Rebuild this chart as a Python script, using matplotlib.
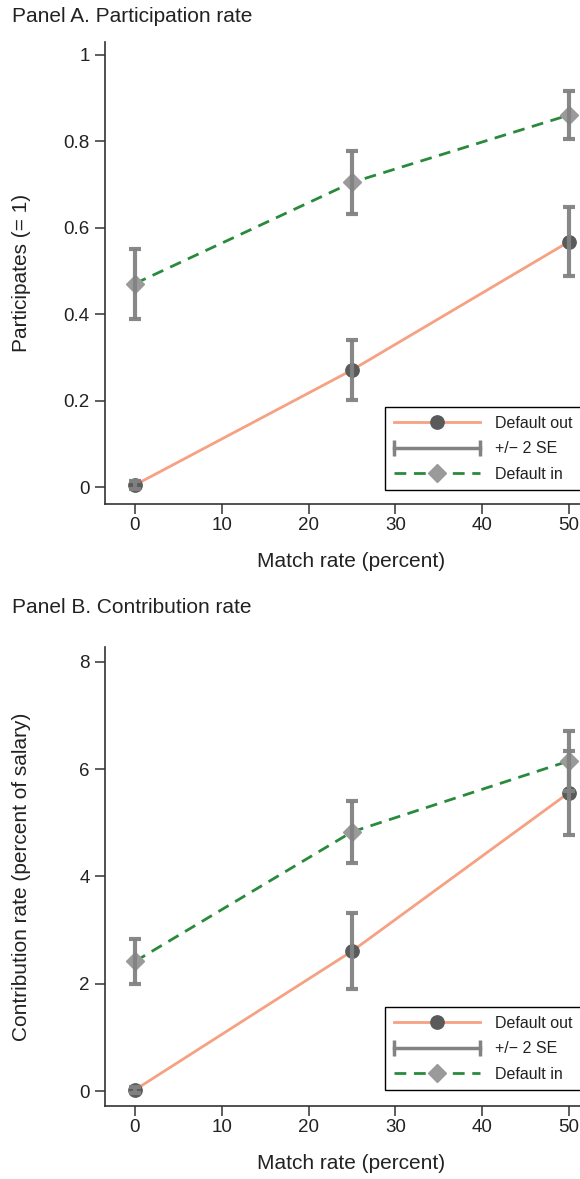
import matplotlib
matplotlib.use("Agg")
import matplotlib.pyplot as plt
from matplotlib.lines import Line2D
from matplotlib.legend_handler import HandlerLine2D

plt.rcParams['font.family'] = ['Liberation Sans', 'DejaVu Sans']
plt.rcParams['lines.scale_dashes'] = False

# ---- data ----
match_rate = [0, 25, 50]
xticks = [0, 10, 20, 30, 40, 50]

# Panel A: participation
partA_out = [0.005, 0.271, 0.568]
partA_out_se2 = [0.01, 0.070, 0.080]
partA_in = [0.471, 0.705, 0.861]
partA_in_se2 = [0.081, 0.072, 0.055]
yticksA = [0, 0.2, 0.4, 0.6, 0.8, 1]
yticklabelsA = ['0', '0.2', '0.4', '0.6', '0.8', '1']

# Panel B: contribution
contB_out = [0.03, 2.61, 5.56]
contB_out_se2 = [0.05, 0.71, 0.78]
contB_in = [2.42, 4.83, 6.15]
contB_in_se2 = [0.42, 0.58, 0.56]
yticksB = [0, 2, 4, 6, 8]

labels = ['Default out', '+/\u2212 2 SE', 'Default in']

ORANGE = '#F6A181'
GREEN = '#2A8A3C'
DOT = '#5A5A5A'
DIAM = '#9A9A9A'
BAR = '#828282'
SPINE = '#333333'
TXT = '#222222'

FS_LABEL = 15
FS_TICK = 13.5
FS_LEG = 11.5

W, H = 580, 1179
fig = plt.figure(figsize=(W / 100, H / 100), dpi=100)


def px_box(left, top, right, bottom):
    return [left / W, 1 - bottom / H, (right - left) / W, (bottom - top) / H]


def draw_panel(ax, y_out, e_out, y_in, e_in, yticks, yticklabels, ylim, ylabel, legend_top):
    ax.plot(match_rate, y_out, color=ORANGE, lw=2.0, zorder=2)
    ax.plot(match_rate, y_out, ls='none', marker='o', ms=9.6, color=DOT, zorder=3)
    ax.plot(match_rate, y_in, color=GREEN, lw=2.0, dashes=(8.5, 5.5), zorder=2)
    ax.plot(match_rate, y_in, ls='none', marker='D', ms=9.0, color=DIAM, zorder=3)
    for y, e in ((y_out, e_out), (y_in, e_in)):
        ax.errorbar(match_rate, y, yerr=e, fmt='none', ecolor=BAR, elinewidth=3.0,
                    capsize=4.3, capthick=3.0, alpha=0.95, zorder=4)
    ax.set_xlim(-3.45, 51.5)
    ax.set_ylim(*ylim)
    ax.set_xticks(xticks)
    ax.set_xticklabels([str(t) for t in xticks])
    ax.set_yticks(yticks)
    ax.set_yticklabels(yticklabels)
    for s in ('top', 'right'):
        ax.spines[s].set_visible(False)
    for s in ('left', 'bottom'):
        ax.spines[s].set_color(SPINE)
        ax.spines[s].set_linewidth(1.2)
    ax.tick_params(direction='out', length=7, width=1.1, color=SPINE,
                   labelsize=FS_TICK, labelcolor=TXT)
    ax.tick_params(axis='x', pad=2)
    ax.tick_params(axis='y', pad=4)
    ax.set_xlabel('Match rate (percent)', fontsize=FS_LABEL, color=TXT)
    ax.set_ylabel(ylabel, fontsize=FS_LABEL, color=TXT)

    h_out = Line2D([], [], color=ORANGE, lw=2.0, marker='o', ms=9.6,
                   markerfacecolor=DOT, markeredgecolor=DOT)
    h_se = Line2D([], [], color=BAR, lw=2.5, marker='|', ms=11, mew=2.5)
    h_in = Line2D([], [], color=GREEN, lw=2.0, dashes=(8.5, 5.5), marker='D', ms=9.0,
                  markerfacecolor=DIAM, markeredgecolor=DIAM)
    leg = ax.legend([h_out, h_se, h_in], labels, loc='upper left',
                    bbox_to_anchor=(385 / W, 1 - legend_top / H),
                    bbox_transform=fig.transFigure, fontsize=FS_LEG,
                    handlelength=5.4, handletextpad=0.95, borderpad=0.55,
                    labelspacing=0.65, borderaxespad=0, fancybox=False,
                    framealpha=1, edgecolor='black',
                    handler_map={h_se: HandlerLine2D(numpoints=2, marker_pad=0.0)})
    leg.get_frame().set_linewidth(1.0)
    for t in leg.get_texts():
        t.set_color(TXT)
    return ax


axA = fig.add_axes(px_box(105, 42, 582, 504))
draw_panel(axA, partA_out, partA_out_se2, partA_in, partA_in_se2,
           yticksA, yticklabelsA, (-0.039, 1.03), 'Participates (= 1)', 407)
axA.xaxis.set_label_coords(0.516, -0.104)
axA.yaxis.set_label_coords(-0.155, 0.5)

axB = fig.add_axes(px_box(105, 647, 582, 1106))
draw_panel(axB, contB_out, contB_out_se2, contB_in, contB_in_se2,
           yticksB, [str(t) for t in yticksB], (-0.27, 8.27),
           'Contribution rate (percent of salary)', 1007)
axB.xaxis.set_label_coords(0.516, -0.105)
axB.yaxis.set_label_coords(-0.155, 0.5)

fig.text(12 / W, 1 - 17 / H, 'Panel A. Participation rate', fontsize=FS_LABEL,
         color=TXT, ha='left', va='center')
fig.text(12 / W, 1 - 608 / H, 'Panel B. Contribution rate', fontsize=FS_LABEL,
         color=TXT, ha='left', va='center')

fig.savefig('out.png', dpi=100)
